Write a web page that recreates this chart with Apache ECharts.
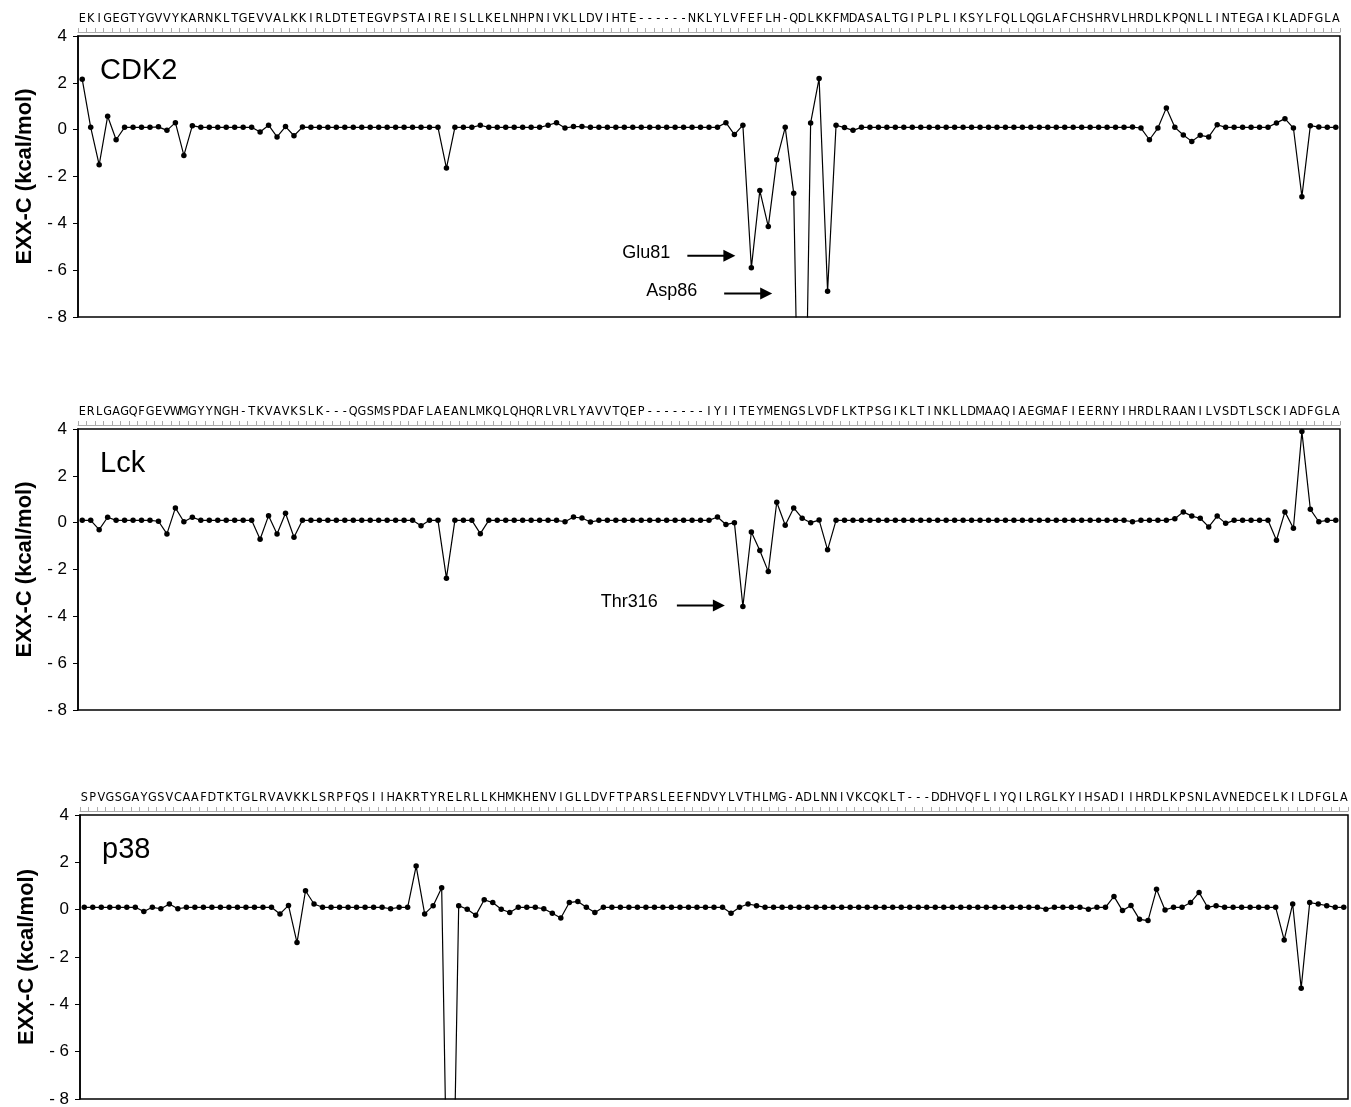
<!DOCTYPE html>
<html><head><meta charset="utf-8">
<script src="https://cdn.jsdelivr.net/npm/echarts@6/dist/echarts.min.js"></script>
<style>html,body{margin:0;padding:0;background:#fff}#c{width:1351px;height:1107px}</style>
</head><body><div id="c"></div><script>
// ---- data ----
const panelNames = ["CDK2", "Lck", "p38"];
const yTitle = "EXX-C (kcal/mol)";
const yTicks = [-8, -6, -4, -2, 0, 2, 4];

const cdk2Residues = "EKIGEGTYGVVYKARNKLTGEVVALKKIRLDTETEGVPSTAIREISLLKELNHPNIVKLLDVIHTE------NKLYLVFEFLH-QDLKKFMDASALTGIPLPLIKSYLFQLLQGLAFCHSHRVLHRDLKPQNLLINTEGAIKLADFGLA".split("");
const lckResidues  = "ERLGAGQFGEVWMGYYNGH-TKVAVKSLK---QGSMSPDAFLAEANLMKQLQHQRLVRLYAVVTQEP-------IYIITEYMENGSLVDFLKTPSGIKLTINKLLDMAAQIAEGMAFIEERNYIHRDLRAANILVSDTLSCKIADFGLA".split("");
const p38Residues  = "SPVGSGAYGSVCAAFDTKTGLRVAVKKLSRPFQSIIHAKRTYRELRLLKHMKHENVIGLLDVFTPARSLEEFNDVYLVTHLMG-ADLNNIVKCQKLT---DDHVQFLIYQILRGLKYIHSADIIHRDLKPSNLAVNEDCELKILDFGLA".split("");

const cdk2Values = [
 2.15, 0.1, -1.5, 0.57, -0.43, 0.1, 0.1, 0.1, 0.1, 0.12,
 -0.03, 0.3, -1.1, 0.17, 0.1, 0.1, 0.1, 0.1, 0.1, 0.1,
 0.1, -0.1, 0.19, -0.31, 0.13, -0.26, 0.11, 0.1, 0.1, 0.1,
 0.1, 0.1, 0.1, 0.1, 0.1, 0.1, 0.1, 0.1, 0.1, 0.1,
 0.1, 0.1, 0.1, -1.64, 0.1, 0.1, 0.1, 0.19, 0.1, 0.1,
 0.1, 0.1, 0.1, 0.1, 0.1, 0.19, 0.3, 0.07, 0.13, 0.13,
 0.1, 0.1, 0.1, 0.1, 0.1, 0.1, 0.1, 0.1, 0.1, 0.1,
 0.1, 0.1, 0.1, 0.1, 0.1, 0.1, 0.3, -0.21, 0.19, -5.9,
 -2.6, -4.14, -1.29, 0.1, -2.71, -22, 0.29, 2.19, -6.9, 0.19,
 0.09, -0.03, 0.1, 0.1, 0.1, 0.1, 0.1, 0.1, 0.1, 0.1,
 0.1, 0.1, 0.1, 0.1, 0.1, 0.1, 0.1, 0.1, 0.1, 0.1,
 0.1, 0.1, 0.1, 0.1, 0.1, 0.1, 0.1, 0.1, 0.1, 0.1,
 0.1, 0.1, 0.1, 0.1, 0.11, 0.07, -0.43, 0.07, 0.93, 0.1,
 -0.23, -0.5, -0.24, -0.31, 0.21, 0.1, 0.1, 0.1, 0.1, 0.1,
 0.1, 0.29, 0.47, 0.07, -2.86, 0.17, 0.11, 0.1, 0.1
];
const lckValues = [
 0.1, 0.1, -0.3, 0.23, 0.1, 0.1, 0.1, 0.1, 0.1, 0.06,
 -0.48, 0.63, 0.04, 0.23, 0.1, 0.1, 0.1, 0.1, 0.1, 0.1,
 0.1, -0.71, 0.3, -0.48, 0.4, -0.62, 0.1, 0.1, 0.1, 0.1,
 0.1, 0.1, 0.1, 0.1, 0.1, 0.1, 0.1, 0.1, 0.1, 0.1,
 -0.13, 0.1, 0.1, -2.37, 0.1, 0.1, 0.1, -0.47, 0.1, 0.1,
 0.1, 0.1, 0.1, 0.1, 0.1, 0.1, 0.1, 0.04, 0.24, 0.2,
 0.03, 0.1, 0.1, 0.1, 0.1, 0.1, 0.1, 0.1, 0.1, 0.1,
 0.1, 0.1, 0.1, 0.1, 0.1, 0.24, -0.08, 0.0, -3.58, -0.4,
 -1.19, -2.09, 0.87, -0.11, 0.63, 0.19, 0.0, 0.11, -1.16, 0.1,
 0.1, 0.1, 0.1, 0.1, 0.1, 0.1, 0.1, 0.1, 0.1, 0.1,
 0.1, 0.1, 0.1, 0.1, 0.1, 0.1, 0.1, 0.1, 0.1, 0.1,
 0.1, 0.1, 0.1, 0.1, 0.1, 0.1, 0.1, 0.1, 0.1, 0.1,
 0.1, 0.1, 0.1, 0.1, 0.04, 0.1, 0.1, 0.1, 0.1, 0.17,
 0.46, 0.28, 0.19, -0.18, 0.28, -0.03, 0.1, 0.1, 0.1, 0.1,
 0.1, -0.75, 0.46, -0.24, 3.89, 0.57, 0.04, 0.1, 0.1
];
const p38Values = [
 0.1, 0.1, 0.1, 0.1, 0.1, 0.1, 0.1, -0.08, 0.1, 0.04,
 0.24, 0.04, 0.1, 0.1, 0.1, 0.1, 0.1, 0.1, 0.1, 0.1,
 0.1, 0.1, 0.1, -0.18, 0.18, -1.39, 0.8, 0.24, 0.1, 0.1,
 0.1, 0.1, 0.1, 0.1, 0.1, 0.1, 0.04, 0.1, 0.1, 1.84,
 -0.18, 0.17, 0.93, -20, 0.17, 0.02, -0.24, 0.42, 0.3, 0.02,
 -0.12, 0.1, 0.1, 0.1, 0.04, -0.15, -0.35, 0.3, 0.35, 0.1,
 -0.12, 0.1, 0.1, 0.1, 0.1, 0.1, 0.1, 0.1, 0.1, 0.1,
 0.1, 0.1, 0.1, 0.1, 0.1, 0.1, -0.15, 0.1, 0.24, 0.17,
 0.1, 0.1, 0.1, 0.1, 0.1, 0.1, 0.1, 0.1, 0.1, 0.1,
 0.1, 0.1, 0.1, 0.1, 0.1, 0.1, 0.1, 0.1, 0.1, 0.1,
 0.1, 0.1, 0.1, 0.1, 0.1, 0.1, 0.1, 0.1, 0.1, 0.1,
 0.1, 0.1, 0.1, 0.02, 0.1, 0.1, 0.1, 0.1, 0.02, 0.1,
 0.1, 0.56, -0.04, 0.18, -0.41, -0.46, 0.86, -0.01, 0.1, 0.1,
 0.3, 0.73, 0.1, 0.17, 0.1, 0.1, 0.1, 0.1, 0.1, 0.1,
 0.1, -1.28, 0.24, -3.32, 0.3, 0.24, 0.17, 0.1, 0.1
];

// annotations: [panel index, residue index, label]
const annotations = [
  [0, 79, "Glu81"],
  [0, 85, "Asp86"],
  [1, 78, "Thr316"]
];

// ---- layout (positions/styles only) ----
const annotationLayout = [
  {dx: -16, dy: -12, textGap: 65},
  {dx: -30, dy: 0, textGap: 75, clampValue: -7},
  {dx: -18, dy: -1, textGap: 67}
];
const residues = [cdk2Residues, lckResidues, p38Residues];
const values = [cdk2Values, lckValues, p38Values];
const grids = [
  {left: 78, top: 36, width: 1262, height: 281},
  {left: 78, top: 429, width: 1262, height: 281},
  {left: 80, top: 815, width: 1268, height: 284}
];
const SANS = '"Liberation Sans", Arial, Helvetica, sans-serif';
const NARROW = '"Liberation Sans Narrow", "Arial Narrow", "DejaVu Sans Condensed", "Liberation Sans", sans-serif';

const chart = echarts.init(document.getElementById('c'), null, {renderer: 'canvas'});
const option = {
  backgroundColor: '#fff',
  animation: false,
  grid: grids.map(g => Object.assign({show: true, borderColor: '#000', borderWidth: 1.5, backgroundColor: 'transparent', containLabel: false, outerBoundsMode: 'none'}, g)),
  xAxis: residues.map((r, i) => ({
    type: 'category', gridIndex: i, position: 'top', data: r, boundaryGap: true, offset: 4,
    axisLine: {show: true, onZero: false, lineStyle: {color: '#aaa', width: 1}},
    axisTick: {show: true, interval: 0, length: 4, lineStyle: {color: '#aaa', width: 1}},
    axisLabel: {show: true, interval: 0, margin: 7, color: '#000', fontSize: 12.5, fontFamily: NARROW, hideOverlap: false},
    splitLine: {show: false}
  })),
  yAxis: residues.map((r, i) => ({
    type: 'value', gridIndex: i, min: yTicks[0], max: yTicks[yTicks.length - 1], interval: 2,
    name: yTitle, nameLocation: 'middle', nameGap: 40, nameRotate: 90,
    nameTextStyle: {fontSize: 22, fontWeight: 'bold', color: '#000', fontFamily: SANS},
    axisLine: {show: true, lineStyle: {color: '#000', width: 1.5}},
    axisTick: {show: true, length: 5, lineStyle: {color: '#000'}},
    axisLabel: {color: '#000', fontSize: 17, fontFamily: SANS, margin: 11, padding: [10, 0, 0, 0],
      formatter: v => (v < 0 ? '- ' + Math.abs(v) : String(v))},
    splitLine: {show: false}
  })),
  series: values.map((v, i) => ({
    type: 'line', xAxisIndex: i, yAxisIndex: i, data: v,
    symbol: 'circle', symbolSize: 5.5, showAllSymbol: true, clip: true,
    lineStyle: {color: '#000', width: 1.2}, itemStyle: {color: '#000'},
    emphasis: {disabled: true}
  }))
};
chart.setOption(option);

// ---- panel labels and annotation arrows ----
const gfx = [];
panelNames.forEach((n, i) => {
  gfx.push({type: 'text', left: grids[i].left + 22, top: grids[i].top + 20,
    style: {text: n, fontSize: 29, fontFamily: SANS, fill: '#000'}});
});
function arrow(tipX, tipY) {
  return [
    {type: 'line', shape: {x1: tipX - 48, y1: tipY, x2: tipX - 10, y2: tipY}, style: {stroke: '#000', lineWidth: 2}},
    {type: 'polygon', shape: {points: [[tipX - 12, tipY - 6], [tipX, tipY], [tipX - 12, tipY + 6]]}, style: {fill: '#000'}}
  ];
}
annotations.forEach(([p, idx, label], k) => {
  const L = annotationLayout[k];
  const v = L.clampValue != null ? Math.max(values[p][idx], L.clampValue) : values[p][idx];
  const pt = chart.convertToPixel({seriesIndex: p}, [idx, v]);
  const tipX = pt[0] + L.dx, tipY = pt[1] + L.dy;
  gfx.push(...arrow(tipX, tipY));
  gfx.push({type: 'text', x: tipX - L.textGap, y: tipY - 3,
    style: {text: label, fontSize: 18, fontFamily: SANS, fill: '#000', align: 'right', verticalAlign: 'middle'}});
});
chart.setOption({graphic: gfx});
</script></body></html>
